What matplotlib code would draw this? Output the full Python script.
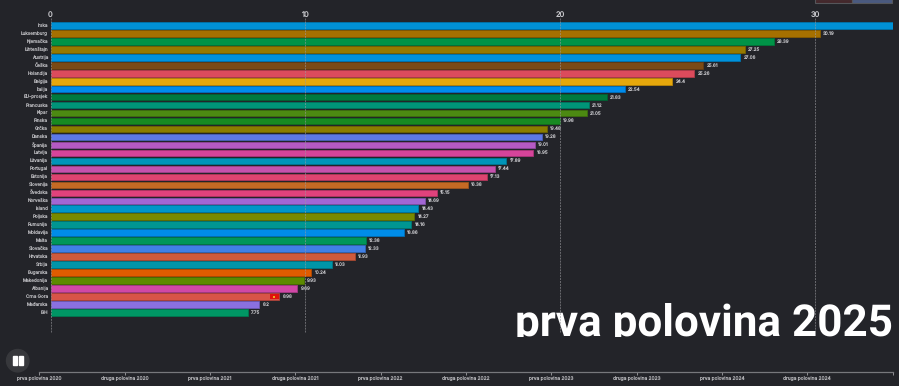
import matplotlib
matplotlib.use('Agg')
import matplotlib.pyplot as plt
from matplotlib.colors import to_rgb
from matplotlib.patches import Circle, Rectangle

W = 899
H = 386
BG = '#232429'

countries = ['Irska', 'Luksemburg', 'Njemačka', 'Lihtenštajn', 'Austrija', 'Češka', 'Holandija',
             'Belgija', 'Italija', 'EU-prosjek', 'Francuska', 'Kipar', 'Finska', 'Grčka', 'Danska',
             'Španija', 'Latvija', 'Litvanija', 'Portugal', 'Estonija', 'Slovenija', 'Švedska',
             'Norveška', 'Island', 'Poljska', 'Rumunija', 'Moldavija', 'Malta', 'Slovačka',
             'Hrvatska', 'Srbija', 'Bugarska', 'Makedonija', 'Albanija', 'Crna Gora', 'Mađarska', 'BiH']
values = [33.05, 30.19, 28.39, 27.25, 27.06, 25.61, 25.26, 24.4, 22.54, 21.83, 21.12, 21.05,
          19.98, 19.48, 19.28, 19.01, 18.95, 17.89, 17.44, 17.13, 16.38, 15.15, 14.69, 14.43,
          14.27, 14.16, 13.86, 12.38, 12.33, 11.93, 11.03, 10.24, 9.93, 9.69, 8.98, 8.2, 7.75]
bar_colors = ['#0091d5', '#a67000', '#009347', '#967a00', '#0092dc', '#7a4a16', '#dc4b5c',
              '#e6a80c', '#008bec', '#007a3e', '#009478', '#4c8a12', '#178a22', '#8a7d00', '#5d78e6',
              '#b55ac4', '#d6449a', '#0095b8', '#c552ad', '#de4470', '#c56a24', '#e0427c',
              '#a266d4', '#0096c8', '#788a00', '#009692', '#008ce8', '#00965a', '#4080e6',
              '#cf5a3c', '#0095a8', '#e05c00', '#5c8a00', '#d048a6', '#d85448', '#8a70e0', '#009664']
top_ticks = [0, 10, 20, 30]
periods = ['prva polovina 2020', 'druga polovina 2020', 'prva polovina 2021', 'druga polovina 2021',
           'prva polovina 2022', 'druga polovina 2022', 'prva polovina 2023', 'druga polovina 2023',
           'prva polovina 2024', 'druga polovina 2024']


def darker(color, k=0.8):
    return tuple(c * k for c in to_rgb(color))


def px_axes(left, top, right, bottom):
    return fig.add_axes([left / W, 1 - bottom / H, (right - left) / W, (bottom - top) / H])


plt.rcParams['font.family'] = ['Inter', 'DejaVu Sans']
plt.rcParams['text.hinting'] = 'none'
plt.rcParams['text.hinting_factor'] = 1
fig = plt.figure(figsize=(W / 100, H / 100), dpi=100, facecolor=BG)

# main chart, rows are 7.98px apart starting at y=25.3
ax = px_axes(50.5, 18, 892.7, 337)
ax.set_facecolor('none')
ax.set_xlim(0, values[0])
ax.set_ylim((337 - 25.3) / 7.98, (18 - 25.3) / 7.98)
for s in ax.spines.values():
    s.set_visible(False)

rows = list(range(len(countries)))
ax.barh(rows, values, height=0.84, color=bar_colors,
        edgecolor=[darker(c) for c in bar_colors], linewidth=0.6, zorder=2)

for i, name in enumerate(countries):
    ax.annotate(name, (0, i), xytext=(-1.7, 0), textcoords='offset points', ha='right', va='center',
                fontsize=3.3, color='#b8b8bc', annotation_clip=False)
    if i > 0:
        ax.annotate(str(values[i]), (values[i], i), xytext=(2.4, 0), textcoords='offset points',
                    ha='left', va='center', fontsize=3.3, color='#c4c4c8')

# flag at the end of the Crna Gora bar
me = countries.index('Crna Gora')
ax.barh(me, 0.38, left=values[me] - 0.38, height=0.72, color='#e0120c', zorder=3)
ax.plot(values[me] - 0.19, me, 's', ms=2, mew=0, color='#e8b020', zorder=4)

ax.set_xticks(top_ticks)
ax.set_yticks([])
ax.xaxis.tick_top()
ax.tick_params(axis='x', length=0, pad=0, labelsize=5.4, labelcolor='#c8c8cc')
ax.vlines(top_ticks, -0.9, (332.7 - 25.3) / 7.98, colors='#9a9a9e', linewidth=0.7,
          linestyles=(0, (2, 1)), alpha=0.6, zorder=5)

ax.text(values[0], (335 - 25.3) / 7.98, 'prva polovina 2025', ha='right', va='baseline',
        fontsize=31.6, fontweight='bold', family='Roboto', color='white', clip_on=True, zorder=4)

# timeline at the bottom
tl = px_axes(39.3, 362, 892.6, 372.3)
tl.set_facecolor('none')
tl.set_xlim(0, len(periods))
tl.set_ylim(0, 1)
tl.set_yticks([])
for side in ['top', 'left', 'right']:
    tl.spines[side].set_visible(False)
tl.spines['bottom'].set_color('#77787c')
tl.spines['bottom'].set_linewidth(0.9)
tl.set_xticks(range(len(periods) + 1), periods + [''])
tl.tick_params(axis='x', length=2.2, width=0.7, color='#909094', pad=0.6, labelsize=3.5, labelcolor='#b4b4b8')

# player controls and the leftover swatches in the top right corner
ui = fig.add_axes([0, 0, 1, 1])
ui.set_xlim(0, W)
ui.set_ylim(H, 0)
ui.axis('off')
ui.patch.set_alpha(0)
ui.add_patch(Circle((17.7, 360.7), 11.2, color='#37383c'))
ui.add_patch(Rectangle((12.9, 356), 4.2, 9.4, color='white'))
ui.add_patch(Rectangle((18.6, 356), 4.2, 9.4, color='white'))
ui.add_patch(Rectangle((815, -1), 37, 4, facecolor='#44282c', edgecolor='#55565a', linewidth=0.8))
ui.add_patch(Rectangle((852, -1), 40, 4, facecolor='#4a5a80', edgecolor='#55565a', linewidth=0.8))

fig.savefig('out.png', dpi=100, facecolor=BG)
